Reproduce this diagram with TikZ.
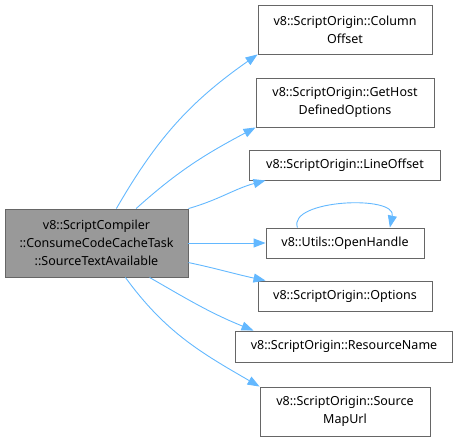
\documentclass[tikz,border=0pt]{standalone}
\usepackage{fontspec}
\setmainfont{Noto Sans}
\usetikzlibrary{arrows.meta,positioning,calc}
\definecolor{callgraphedge}{RGB}{99,184,255}
\definecolor{callgraphline}{RGB}{102,102,102}
\definecolor{callgraphroot}{RGB}{153,153,153}
\tikzset{
  fn box/.style={
    draw=callgraphline,
    line width=0.9pt,
    fill=white,
    inner sep=2pt,
    align=center,
    font=\fontsize{12.5}{18}\selectfont,
  },
  call edge/.style={
    -{Triangle[length=12pt,width=9pt]},
    line width=0.9pt,
    draw=callgraphedge,
  },
}

\begin{document}
\begin{tikzpicture}[x=1pt,y=-1pt]
  \useasboundingbox (0,0) rectangle (460,442);
  \node[fn box, fill=callgraphroot, minimum width=183pt, minimum height=68pt] (root) at (96.5,243)
    {v8::ScriptCompiler\\::ConsumeCodeCacheTask\\::SourceTextAvailable};
  \node[fn box, minimum width=174pt, minimum height=49pt] (col) at (345,29.5)
    {v8::ScriptOrigin::Column\\Offset};
  \node[fn box, minimum width=178pt, minimum height=49pt] (host) at (345,102.5)
    {v8::ScriptOrigin::GetHost\\DefinedOptions};
  \node[fn box, minimum width=191pt, minimum height=30pt] (line) at (345,165)
    {v8::ScriptOrigin::LineOffset};
  \node[fn box, minimum width=158pt, minimum height=30pt] (open) at (345,243)
    {v8::Utils::OpenHandle};
  \node[fn box, minimum width=174pt, minimum height=30pt] (opts) at (345,296)
    {v8::ScriptOrigin::Options};
  \node[fn box, minimum width=217pt, minimum height=31pt] (res) at (344,346.5)
    {v8::ScriptOrigin::ResourceName};
  \node[fn box, minimum width=170pt, minimum height=49pt] (map) at (345,411.5)
    {v8::ScriptOrigin::Source\\MapUrl};

  \draw[call edge] (root.60) to[out=60, in=215] (col.south west);
  \draw[call edge] (root.41) to[out=42, in=208] (host.south west);
  \draw[call edge] (root.north east) to[out=16, in=195] (line.191);
  \draw[call edge] (root) -- (open);
  \draw[call edge] (open.162) .. controls +(-10,-28) and +(7,-33) .. (open.19);
  \draw[call edge] (root.-12) to[out=-12, in=168] (opts.169);
  \draw[call edge] (root.-33) to[out=-30, in=158] (res.170);
  \draw[call edge] (root.-50) to[out=-54, in=150] (map.north west);
\end{tikzpicture}
\end{document}
